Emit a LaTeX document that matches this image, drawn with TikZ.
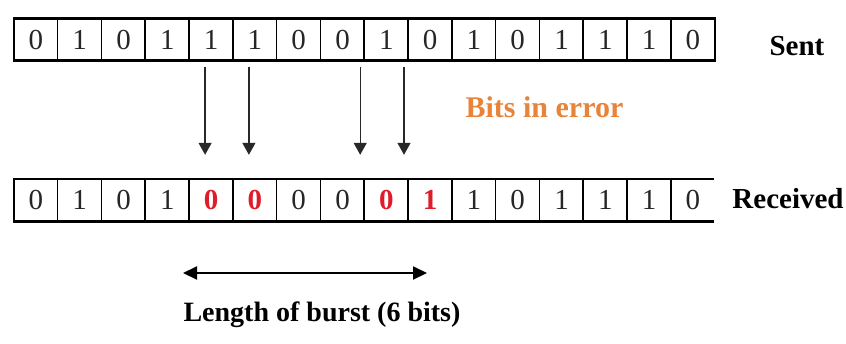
\documentclass[tikz,border=0pt]{standalone}
\usepackage{fontspec}
\setmainfont{Liberation Serif}
\usetikzlibrary{arrows.meta}
\definecolor{errred}{RGB}{222,28,42}
\definecolor{errorange}{RGB}{232,132,58}
\definecolor{arrowgray}{RGB}{40,40,40}
\tikzset{
  cell/.style={minimum width=43.8pt, minimum height=42pt, inner sep=0pt,
    font=\fontsize{29}{29}\selectfont, text=black!85},
  bad/.style={text=errred, font=\fontsize{29}{29}\selectfont\bfseries},
  frame/.style={line width=2.6pt},
  divider/.style={line width=1.7pt},
  label/.style={font=\fontsize{28}{28}\selectfont\bfseries, inner sep=0pt},
  errarrow/.style={draw=arrowgray, line width=1.3pt, -{Triangle[width=13pt,length=12pt]}},
  span/.style={line width=2pt, {Triangle[width=13pt,length=14pt]}-{Triangle[width=13pt,length=14pt]}}
}
\begin{document}
\begin{tikzpicture}[x=1pt,y=-1pt]
\useasboundingbox (0,0) rectangle (846,343);

% sent word
\foreach \b [count=\n from 0] in {0,1,0,1,1,1,0,0,1,0,1,0,1,1,1,0}
  \node[cell] (t\n) at (14+21.9+\n*43.8, 39.5) {\b};
\draw[frame] (t0.north west) rectangle (t15.south east);
\foreach \n in {1,...,15}
  \draw[divider] (t\n.north west) -- (t\n.south west);

% received word
\foreach \b/\s [count=\n from 0] in {0/,1/,0/,1/,0/bad,0/bad,0/,0/,0/bad,1/bad,1/,0/,1/,1/,1/,0/}
  \node[cell,\s] (r\n) at (14+21.9+\n*43.8, 200) {\b};
\coordinate (rtop) at ([xshift=-1pt]r15.north east);
\coordinate (rbot) at ([xshift=-1pt]r15.south east);
\draw[frame] (rtop) -- (r0.north west) -- (r0.south west) -- (rbot);
\foreach \n in {1,...,15}
  \draw[divider] (r\n.north west) -- (r\n.south west);

% labels
\node[label, font=\fontsize{29}{29}\selectfont\bfseries] (sent) at (797,46) {Sent};
\node[label, font=\fontsize{29}{29}\selectfont\bfseries] (recv) at (788,199) {Received};
\node[label, font=\fontsize{30}{30}\selectfont\bfseries, text=errorange] (err) at (544.5,107) {Bits in error};

% error arrows
\coordinate (a1) at ([xshift=-6pt, yshift=-6pt]t4.south);
\coordinate (a2) at ([xshift=-6pt, yshift=-6pt]t5.south);
\coordinate (a3) at ([xshift=-4pt, yshift=-6pt]t8.south west);
\coordinate (a4) at ([xshift=-4pt, yshift=-6pt]t9.south west);
\coordinate (b1) at ([xshift=-6pt, yshift=24pt]r4.north);
\coordinate (b2) at ([xshift=-6pt, yshift=24pt]r5.north);
\coordinate (b3) at ([xshift=-4pt, yshift=24pt]r8.north west);
\coordinate (b4) at ([xshift=-4pt, yshift=24pt]r9.north west);
\foreach \k in {1,...,4}
  \draw[errarrow] (a\k) -- (b\k);

% burst length
\coordinate (bl) at (183,273);
\coordinate (br) at (427,273);
\draw[span] (bl) -- (br);
\node[label] (burst) at (322,315) {Length of burst (6 bits)};
\end{tikzpicture}
\end{document}
